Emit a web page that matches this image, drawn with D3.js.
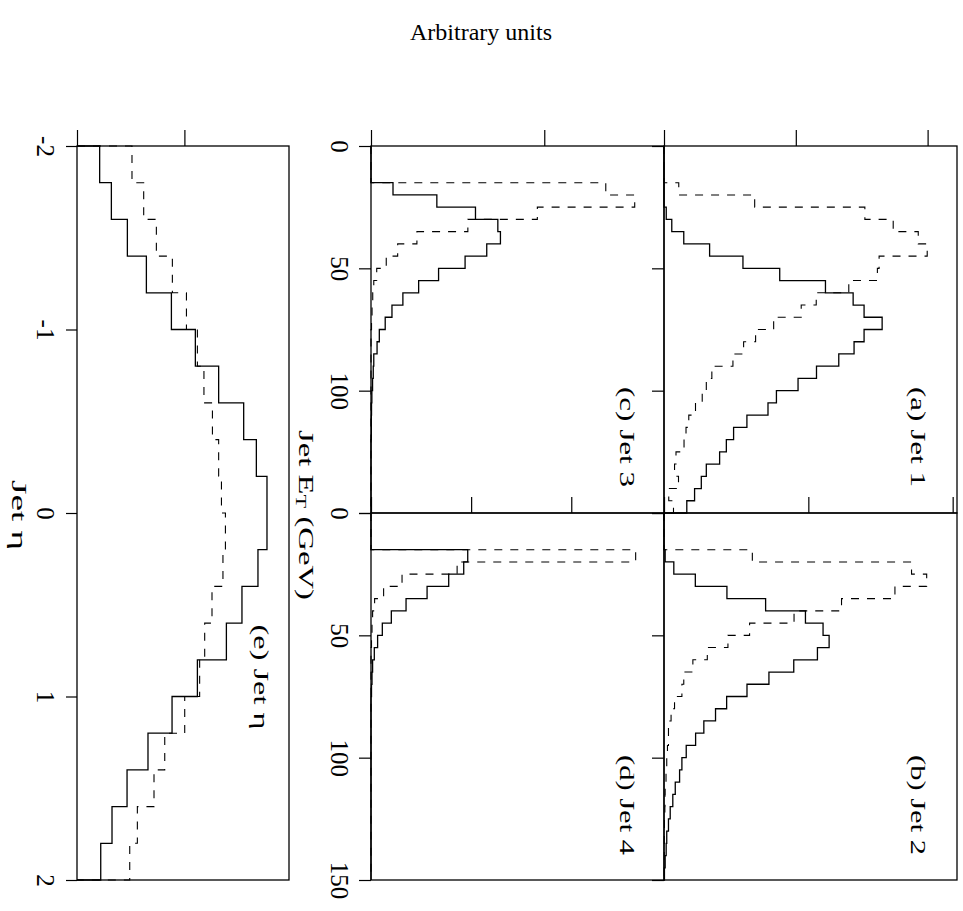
<!DOCTYPE html>
<html>
<head>
<meta charset="utf-8">
<style>
  body { margin: 0; background: #fff; }
  svg { display: block; font-family: 'Liberation Serif', 'Times New Roman', serif; }
</style>
</head>
<body>
<svg></svg>
<script src="https://d3js.org/d3.v7.min.js"></script>
<script>
// bin low edges (5 GeV bins for ET, 0.2 bins for eta)
var etBins = [0, 5, 10, 15, 20, 25, 30, 35, 40, 45, 50, 55, 60, 65, 70, 75, 80, 85, 90, 95,
  100, 105, 110, 115, 120, 125, 130, 135, 140, 145];
var etaBins = [-2, -1.8, -1.6, -1.4, -1.2, -1, -0.8, -0.6, -0.4, -0.2,
  0, 0.2, 0.4, 0.6, 0.8, 1, 1.2, 1.4, 1.6, 1.8];

// arbitrary units
var jet1Solid = [0, 0, 0, 0, 0, 0.017, 0.059, 0.150, 0.346, 0.599, 0.878, 1.225, 1.435, 1.518, 1.655,
  1.518, 1.442, 1.326, 1.157, 1.017, 0.853, 0.789, 0.629, 0.528, 0.473, 0.422, 0.321, 0.283, 0.232, 0.173];
var jet1Dash = [0, 0, 0, 0.112, 0.688, 1.524, 1.739, 1.929, 1.997, 1.632, 1.619, 1.402, 1.155, 1.041, 0.832,
  0.695, 0.604, 0.523, 0.363, 0.321, 0.290, 0.239, 0.188, 0.167, 0.152, 0.091, 0.080, 0.110, 0.036, 0.072];
var jet2Solid = [0, 0, 0, 0.008, 0.068, 0.217, 0.436, 0.704, 0.980, 1.102, 1.144, 1.063, 0.899, 0.727, 0.575,
  0.434, 0.357, 0.276, 0.219, 0.154, 0.124, 0.108, 0.078, 0.061, 0.043, 0.031, 0.019, 0.015, 0.008, 0.003];
var jet2Dash = [0, 0, 0, 0.612, 1.715, 1.820, 1.600, 1.230, 0.901, 0.593, 0.443, 0.300, 0.200, 0.137, 0.124,
  0.073, 0.049, 0.031, 0.031, 0.024, 0.019, 0.014, 0.008, 0.007, 0.006, 0.003, 0.002, 0.002, 0.002, 0.002];
var jet3Solid = [0, 0, 0, 0.127, 0.380, 0.603, 0.732, 0.747, 0.668, 0.543, 0.390, 0.275, 0.184, 0.121, 0.082,
  0.048, 0.035, 0.016, 0.013, 0.009, 0.005, 0.003, 0.002, 0.002, 0, 0, 0, 0, 0, 0];
var jet3Dash = [0, 0, 0, 1.355, 1.522, 0.960, 0.559, 0.265, 0.154, 0.088, 0.033, 0.016, 0.010, 0.006, 0.003,
  0, 0, 0, 0, 0, 0, 0, 0, 0, 0, 0, 0, 0, 0, 0];
var jet4Solid = [0, 0, 0, 0.966, 0.926, 0.776, 0.560, 0.350, 0.203, 0.113, 0.066, 0.033, 0.016, 0.010, 0.005,
  0, 0, 0, 0, 0, 0, 0, 0, 0, 0, 0, 0, 0, 0, 0];
var jet4Dash = [0, 0, 0, 2.643, 0.860, 0.310, 0.126, 0.036, 0.016, 0.010, 0.005, 0, 0, 0, 0,
  0, 0, 0, 0, 0, 0, 0, 0, 0, 0, 0, 0, 0, 0, 0];
var etaSolid = [0.211, 0.320, 0.469, 0.646, 0.879, 1.102, 1.319, 1.552, 1.670, 1.769,
  1.769, 1.685, 1.536, 1.391, 1.121, 0.885, 0.661, 0.466, 0.326, 0.221];
var etaDash = [0.512, 0.621, 0.739, 0.888, 1.019, 1.121, 1.182, 1.261, 1.319, 1.345,
  1.382, 1.359, 1.257, 1.189, 1.142, 1.003, 0.817, 0.717, 0.562, 0.491];

var etTicks = [0, 50, 100, 150];
var etaTicks = [-2, -1, 0, 1, 2];

var W = 963, H = 911;
var svg = d3.select('svg').attr('width', W).attr('height', H);

var rowTop = [146, 513], rowBot = [513, 880];
var colE = [77, 289], colC = [371, 664], colA = [664, 957];
var ink = '#000';

var panels = [
  { label: '(a) Jet 1', xr: colA, yr: rowTop, max: 2.223, ticks: [0, 1, 2], solid: jet1Solid, dash: jet1Dash, lab: [918, 437], tickLab: false },
  { label: '(b) Jet 2', xr: colA, yr: rowBot, max: 2.030, ticks: [0, 1, 2], solid: jet2Solid, dash: jet2Dash, lab: [918, 805], tickLab: false },
  { label: '(c) Jet 3', xr: colC, yr: rowTop, max: 1.691, ticks: [0, 1], solid: jet3Solid, dash: jet3Dash, lab: [627, 437], tickLab: [0, 50, 100] },
  { label: '(d) Jet 4', xr: colC, yr: rowBot, max: 2.926, ticks: [0, 1, 2], solid: jet4Solid, dash: jet4Dash, lab: [627, 805], tickLab: [0, 50, 100, 150] }
];

function stepPoints(bins, width, vals, x, y) {
  var pts = [[x(0), y(bins[0])]];
  vals.forEach(function (v, i) {
    pts.push([x(v), y(bins[i])]);
    pts.push([x(v), y(bins[i] + width)]);
  });
  pts.push([x(0), y(bins[bins.length - 1] + width)]);
  return pts;
}

var line = d3.line();

function rotLabel(cx, cy, size, len) {
  var t = svg.append('text')
    .attr('transform', 'translate(' + cx + ',' + cy + ') rotate(90)')
    .attr('text-anchor', 'middle')
    .attr('dominant-baseline', 'central')
    .attr('font-size', size)
    .attr('fill', ink);
  if (len) t.attr('textLength', len).attr('lengthAdjust', 'spacingAndGlyphs');
  return t;
}

function styleAxis(g) {
  g.select('.domain').remove();
  g.selectAll('.tick line').attr('stroke', ink).attr('stroke-width', 1.2);
  g.attr('font-family', null).attr('font-size', null);
}

function drawHist(xs, ys, bins, width, solid, dash) {
  svg.append('path')
    .attr('d', line(stepPoints(bins, width, dash, xs, ys)))
    .attr('fill', 'none').attr('stroke', ink).attr('stroke-width', 1.1)
    .attr('stroke-dasharray', '8,8');
  svg.append('path')
    .attr('d', line(stepPoints(bins, width, solid, xs, ys)))
    .attr('fill', 'none').attr('stroke', ink).attr('stroke-width', 1.3);
}

panels.forEach(function (p) {
  var ys = d3.scaleLinear().domain([0, 150]).range(p.yr);
  var xs = d3.scaleLinear().domain([0, p.max]).range(p.xr);

  drawHist(xs, ys, etBins, 5, p.solid, p.dash);

  svg.append('rect')
    .attr('x', p.xr[0]).attr('y', p.yr[0])
    .attr('width', p.xr[1] - p.xr[0]).attr('height', p.yr[1] - p.yr[0])
    .attr('fill', 'none').attr('stroke', ink).attr('stroke-width', 1.3);

  // count axis: ticks only, no numbers
  svg.append('g')
    .attr('transform', 'translate(0,' + p.yr[0] + ')')
    .call(d3.axisTop(xs).tickValues(p.ticks).tickSize(16).tickFormat(''))
    .call(styleAxis);

  // ET axis
  var gy = svg.append('g')
    .attr('transform', 'translate(' + p.xr[0] + ',0)')
    .call(d3.axisLeft(ys).tickValues(etTicks).tickSize(12)
      .tickFormat(function (d) { return p.tickLab && p.tickLab.indexOf(d) >= 0 ? d : ''; }))
    .call(styleAxis);
  gy.selectAll('.tick text')
    .attr('x', null).attr('dy', null)
    .attr('transform', 'translate(-32,0) rotate(90)')
    .attr('text-anchor', 'middle')
    .attr('dominant-baseline', 'central')
    .attr('font-size', 25)
    .attr('fill', ink);

  rotLabel(p.lab[0], p.lab[1], 22, 100).text(p.label);
});

// eta panel
(function () {
  var ys = d3.scaleLinear().domain([-2, 2]).range([146, 880]);
  var xs = d3.scaleLinear().domain([0, 1.974]).range(colE);
  drawHist(xs, ys, etaBins, 0.2, etaSolid, etaDash);
  svg.append('rect')
    .attr('x', colE[0]).attr('y', 146)
    .attr('width', colE[1] - colE[0]).attr('height', 880 - 146)
    .attr('fill', 'none').attr('stroke', ink).attr('stroke-width', 1.3);
  svg.append('g')
    .attr('transform', 'translate(0,146)')
    .call(d3.axisTop(xs).tickValues([0, 1]).tickSize(16).tickFormat(''))
    .call(styleAxis);
  var gy = svg.append('g')
    .attr('transform', 'translate(' + colE[0] + ',0)')
    .call(d3.axisLeft(ys).tickValues(etaTicks).tickSize(11).tickFormat(d3.format('d')))
    .call(styleAxis);
  gy.selectAll('.tick text')
    .attr('x', null).attr('dy', null)
    .attr('transform', 'translate(-32,0) rotate(90)')
    .attr('text-anchor', 'middle')
    .attr('dominant-baseline', 'central')
    .attr('font-size', 25)
    .attr('fill', ink)
    .text(function (d) { return d < 0 ? '-' + Math.abs(d) : d; });
  rotLabel(261, 677, 22, 105).text('(e) Jet \u03b7');
})();

// axis titles
var etTitle = rotLabel(307, 515, 22, 170);
etTitle.append('tspan').text('Jet E');
etTitle.append('tspan').attr('font-size', 15).attr('dy', 6).text('T');
etTitle.append('tspan').attr('dy', -6).text(' (GeV)');

rotLabel(19, 515, 22, 70).text('Jet \u03b7');

svg.append('text')
  .attr('x', 481).attr('y', 40)
  .attr('text-anchor', 'middle')
  .attr('font-size', 24)
  .attr('fill', ink)
  .text('Arbitrary units');
</script>
</body>
</html>
